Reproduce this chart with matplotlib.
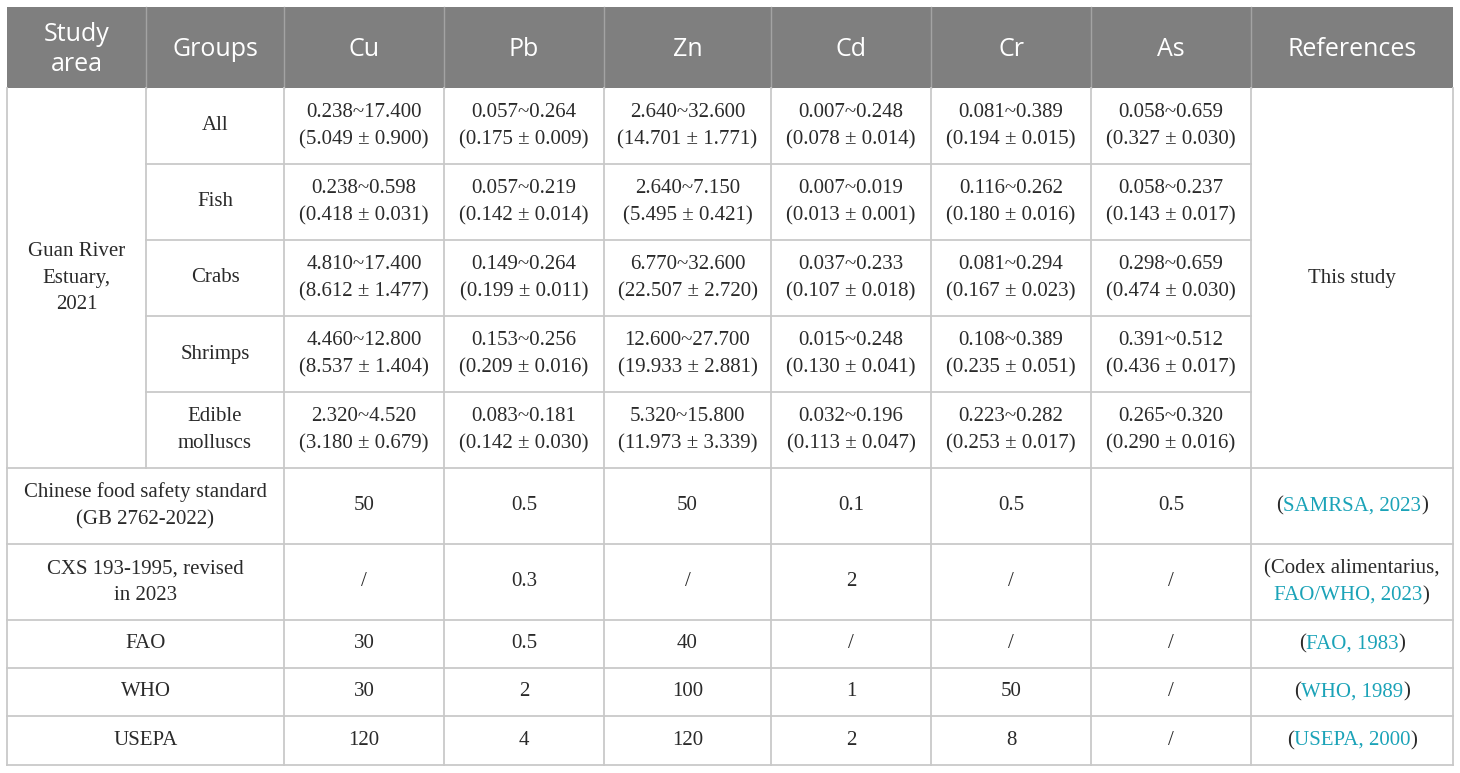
import matplotlib
matplotlib.use("Agg")
import matplotlib.pyplot as plt

# ---- data ----
headers = ["Study\narea", "Groups", "Cu", "Pb", "Zn", "Cd", "Cr", "As", "References"]
metals = ["Cu", "Pb", "Zn", "Cd", "Cr", "As"]
study_area = "Guan River\nEstuary,\n2021"
groups = ["All", "Fish", "Crabs", "Shrimps", "Edible\nmolluscs"]

ranges = [
    ["0.238~17.400", "0.057~0.264", "2.640~32.600", "0.007~0.248", "0.081~0.389", "0.058~0.659"],
    ["0.238~0.598", "0.057~0.219", "2.640~7.150", "0.007~0.019", "0.116~0.262", "0.058~0.237"],
    ["4.810~17.400", "0.149~0.264", "6.770~32.600", "0.037~0.233", "0.081~0.294", "0.298~0.659"],
    ["4.460~12.800", "0.153~0.256", "12.600~27.700", "0.015~0.248", "0.108~0.389", "0.391~0.512"],
    ["2.320~4.520", "0.083~0.181", "5.320~15.800", "0.032~0.196", "0.223~0.282", "0.265~0.320"],
]
means = [
    ["5.049 ± 0.900", "0.175 ± 0.009", "14.701 ± 1.771", "0.078 ± 0.014", "0.194 ± 0.015", "0.327 ± 0.030"],
    ["0.418 ± 0.031", "0.142 ± 0.014", "5.495 ± 0.421", "0.013 ± 0.001", "0.180 ± 0.016", "0.143 ± 0.017"],
    ["8.612 ± 1.477", "0.199 ± 0.011", "22.507 ± 2.720", "0.107 ± 0.018", "0.167 ± 0.023", "0.474 ± 0.030"],
    ["8.537 ± 1.404", "0.209 ± 0.016", "19.933 ± 2.881", "0.130 ± 0.041", "0.235 ± 0.051", "0.436 ± 0.017"],
    ["3.180 ± 0.679", "0.142 ± 0.030", "11.973 ± 3.339", "0.113 ± 0.047", "0.253 ± 0.017", "0.290 ± 0.016"],
]
this_study = "This study"

standards = ["Chinese food safety standard\n(GB 2762-2022)", "CXS 193-1995, revised\nin 2023",
             "FAO", "WHO", "USEPA"]
std_values = [
    ["50", "0.5", "50", "0.1", "0.5", "0.5"],
    ["/", "0.3", "/", "2", "/", "/"],
    ["30", "0.5", "40", "/", "/", "/"],
    ["30", "2", "100", "1", "50", "/"],
    ["120", "4", "120", "2", "8", "/"],
]
# each reference: list of lines, each line a list of (text, is_link)
std_refs = [
    [[("(", False), ("SAMRSA, 2023", True), (")", False)]],
    [[("(Codex alimentarius,", False)], [("FAO/WHO, 2023", True), (")", False)]],
    [[("(", False), ("FAO, 1983", True), (")", False)]],
    [[("(", False), ("WHO, 1989", True), (")", False)]],
    [[("(", False), ("USEPA, 2000", True), (")", False)]],
]

# ---- layout (pixels) ----
W, H = 1460, 773
col_x = [7, 146, 284, 444, 604, 771, 931, 1091, 1251, 1453]
row_y = [7, 88, 164, 240, 316, 392, 468, 544, 620, 668, 716, 765]

HEAD_BG = "#7f7f7f"
GRID = "#c9c9c9"
HEAD_GRID = "#a3a3a3"
TXT = "#2a2a2a"
LINK = "#1ba3b8"
SERIF = ["Liberation Serif", "DejaVu Serif"]
SANS = ["Open Sans", "DejaVu Sans"]
FS = 15
HFS = 18

fig = plt.figure(figsize=(W / 100, H / 100), dpi=100)
ax = fig.add_axes([0, 0, 1, 1])
ax.set_xlim(0, W)
ax.set_ylim(H, 0)
ax.axis("off")


def cx(c0, c1):
    return (col_x[c0] + col_x[c1]) / 2


def cy(r0, r1):
    return (row_y[r0] + row_y[r1]) / 2


def cell_text(x, y, s, **kw):
    ax.text(x, y, s, ha="center", va="center", family=SERIF, fontsize=FS,
            color=TXT, linespacing=1.55, **kw)


# header
ax.add_patch(plt.Rectangle((col_x[0], row_y[0]), col_x[-1] - col_x[0], row_y[1] - row_y[0],
                           facecolor=HEAD_BG, edgecolor="none"))
for i, h in enumerate(headers):
    ax.text(cx(i, i + 1), cy(0, 1) + 2, h, ha="center", va="center", family=SANS,
            fontsize=HFS, color="white", linespacing=1.25)
for x in col_x[1:-1]:
    ax.plot([x, x], [row_y[0], row_y[1]], color=HEAD_GRID, lw=1.0)

# study rows
cell_text(cx(0, 1), cy(1, 6), study_area)
cell_text(cx(8, 9), cy(1, 6), this_study)
for r, g in enumerate(groups):
    cell_text(cx(1, 2), cy(r + 1, r + 2), g)
    for c in range(len(metals)):
        cell_text(cx(c + 2, c + 3), cy(r + 1, r + 2), ranges[r][c] + "\n(" + means[r][c] + ")")

# standard rows
fig.canvas.draw()
renderer = fig.canvas.get_renderer()
inv = ax.transData.inverted()


def text_width(s):
    t = ax.text(0, 0, s, family=SERIF, fontsize=FS)
    bb = t.get_window_extent(renderer)
    t.remove()
    p0 = inv.transform((bb.x0, bb.y0))
    p1 = inv.transform((bb.x1, bb.y0))
    return p1[0] - p0[0]


for r, name in enumerate(standards):
    rr = r + 6
    cell_text(cx(0, 2), cy(rr, rr + 1), name)
    for c in range(len(metals)):
        cell_text(cx(c + 2, c + 3), cy(rr, rr + 1), std_values[r][c])
    lines = std_refs[r]
    n = len(lines)
    line_h = 27
    for li, parts in enumerate(lines):
        y = cy(rr, rr + 1) + (li - (n - 1) / 2) * line_h
        widths = [text_width(p) for p, _ in parts]
        x = cx(8, 9) - sum(widths) / 2
        for (p, link), w in zip(parts, widths):
            ax.text(x, y, p, ha="left", va="center", family=SERIF, fontsize=FS,
                    color=LINK if link else TXT)
            x += w

# grid lines
lw = 1.3
ax.plot([col_x[0], col_x[0]], [row_y[1], row_y[-1]], color=GRID, lw=lw)
ax.plot([col_x[-1], col_x[-1]], [row_y[1], row_y[-1]], color=GRID, lw=lw)
for x in col_x[2:-1]:
    ax.plot([x, x], [row_y[1], row_y[-1]], color=GRID, lw=lw)
ax.plot([col_x[1], col_x[1]], [row_y[1], row_y[6]], color=GRID, lw=lw)
for y in row_y[2:6]:
    ax.plot([col_x[1], col_x[8]], [y, y], color=GRID, lw=lw)
for y in row_y[6:]:
    ax.plot([col_x[0], col_x[-1]], [y, y], color=GRID, lw=lw)

fig.savefig("out.png", dpi=100)
